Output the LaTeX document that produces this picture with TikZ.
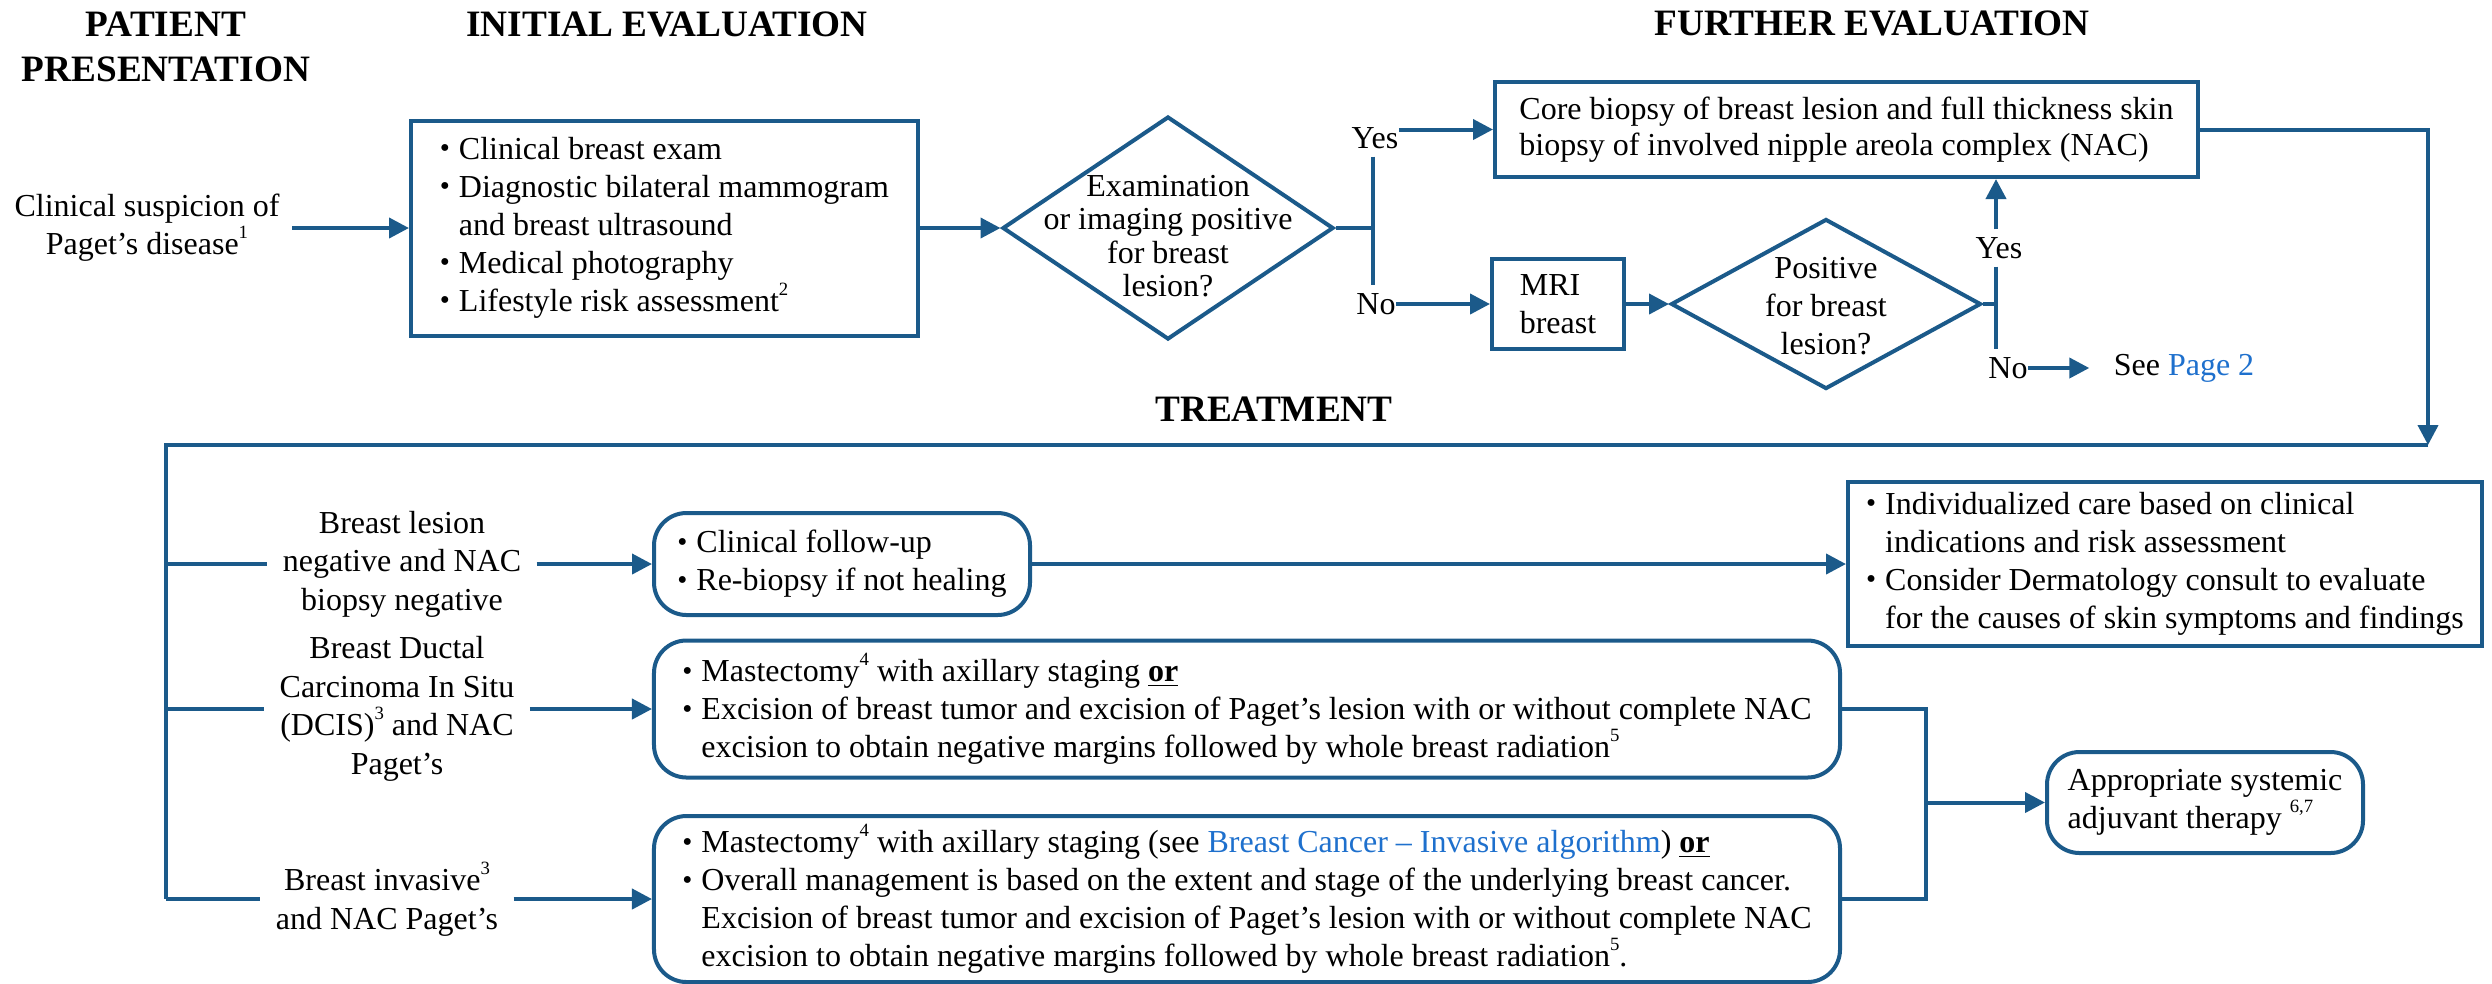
\documentclass[tikz,border=0pt]{standalone}
\usepackage{fontspec}
\usepackage{graphicx}
\setmainfont{Liberation Serif}
\usetikzlibrary{arrows.meta,shapes.geometric}
\definecolor{lineblue}{RGB}{27,90,138}
\definecolor{linkblue}{RGB}{30,112,205}
\newcommand\bul{\makebox[7.6pt][l]{\raisebox{0.12ex}{\scalebox{0.9}{\textbullet}}}}
\newcommand\indt{\hspace*{7.6pt}}
\newcommand\sups[1]{\raisebox{1.1ex}{\fontsize{7.5}{7.5}\selectfont #1}}
\begin{document}
\begin{tikzpicture}[x=0.4pt,y=-0.4pt,
 every node/.style={inner sep=0pt, font=\fontsize{12.8}{15.2}\selectfont},
 ln/.style={draw=lineblue, line width=1.6pt},
 arr/.style={ln, -{Triangle[length=8pt,width=8pt]}},
 sqbox/.style={draw=lineblue, line width=1.6pt, align=left},
 rbox/.style={sqbox, rounded corners=13pt},
 hdr/.style={font=\bfseries\fontsize{14.9}{18}\selectfont, align=center},
 lbl/.style={align=center, inner xsep=6pt},
 yn/.style={inner xsep=0pt, inner ysep=3pt},
 dmd/.style={diamond, draw=lineblue, line width=1.6pt, inner sep=0pt},
]
\useasboundingbox (0,0) rectangle (2492,983);

% headers
\node[hdr] (hpat) at (166,47) {PATIENT\\PRESENTATION};
\node[hdr] (hini) at (667,24) {INITIAL EVALUATION};
\node[hdr] (hfur) at (1872,23) {FURTHER EVALUATION};
\node[hdr] (htre) at (1274,409) {TREATMENT};

% patient presentation
\node[align=center, inner xsep=5pt] (pres) at (147,228) {Clinical suspicion of\\Paget’s disease\sups{1}};

% initial evaluation
\node[sqbox, minimum width=202.8pt, minimum height=86pt] (init) at (664.5,228)
 {\bul Clinical breast exam\\
  \bul Diagnostic bilateral mammogram\\
  \indt and breast ultrasound\\
  \bul Medical photography\\
  \bul Lifestyle risk assessment\sups{2}};

% diamond 1
\node[dmd, minimum width=132.4pt, minimum height=89.2pt] (d1) at (1168,228) {};
\node[align=center, font=\fontsize{12.8}{13.4}\selectfont] (d1t) at (1168,236)
 {Examination\\or imaging positive\\for breast\\lesion?};

\coordinate (j1) at (1373,228);
\node[yn] (yes1) at (1375,138) {Yes};
\node[yn] (no1) at (1376,304) {No};

% further evaluation
\node[sqbox, minimum width=281.2pt, minimum height=38pt, font=\fontsize{12.8}{14.4}\selectfont] (core) at (1846.5,129.5)
 {Core biopsy of breast lesion and full thickness skin\\biopsy of involved nipple areola complex (NAC)};
\node[sqbox, minimum width=52.8pt, minimum height=36pt] (mri) at (1558,304) {MRI\\breast};

\node[dmd, minimum width=124pt, minimum height=68pt] (d2) at (1826,304) {};
\node[align=center] (d2t) at (1826,306) {Positive\\for breast\\lesion?};

\coordinate (j2) at (1996,304);
\node[yn] (yes2) at (1999,248) {Yes};
\node[yn] (no2) at (2008,368) {No};
\node[inner xsep=9.6pt] (see) at (2184,368) {See \textcolor{linkblue}{Page 2}};

\coordinate (cr) at (2428,129.5);
\coordinate (cb) at (2428,445);
\coordinate (tl) at (166,445);
\coordinate (tb) at (166,899);

% treatment labels
\node[lbl, font=\fontsize{12.8}{15.4}\selectfont] (l1) at (402,564) {Breast lesion\\negative and NAC\\biopsy negative};
\node[lbl, font=\fontsize{12.8}{15.4}\selectfont] (l2) at (397,709) {Breast Ductal\\Carcinoma In Situ\\(DCIS)\sups{3} and NAC\\Paget’s};
\node[lbl, font=\fontsize{12.8}{15.4}\selectfont] (l3) at (387,899) {Breast invasive\sups{3}\\and NAC Paget’s};

% treatment boxes
\node[rbox, minimum width=150.4pt, minimum height=40.8pt] (b1) at (842,564)
 {\bul Clinical follow-up\\\bul Re-biopsy if not healing};
\node[rbox, minimum width=474.4pt, minimum height=54.8pt] (b2) at (1247,709)
 {\bul Mastectomy\sups{4} with axillary staging \textbf{\underline{or}}\\
  \bul Excision of breast tumor and excision of Paget’s lesion with or without complete NAC\\
  \indt excision to obtain negative margins followed by whole breast radiation\sups{5}};
\node[rbox, minimum width=474.4pt, minimum height=66.4pt] (b3) at (1247,899)
 {\bul Mastectomy\sups{4} with axillary staging (see \textcolor{linkblue}{Breast Cancer -- Invasive algorithm}) \textbf{\underline{or}}\\
  \bul Overall management is based on the extent and stage of the underlying breast cancer.\\
  \indt Excision of breast tumor and excision of Paget’s lesion with or without complete NAC\\
  \indt excision to obtain negative margins followed by whole breast radiation\sups{5}.};

\node[sqbox, minimum width=253.6pt, minimum height=65.6pt] (ind) at (2165,564)
 {\bul Individualized care based on clinical\\
  \indt indications and risk assessment\\
  \bul Consider Dermatology consult to evaluate\\
  \indt for the causes of skin symptoms and findings};

\node[rbox, minimum width=126.4pt, minimum height=40.4pt] (sys) at (2205,802.5)
 {Appropriate systemic\\adjuvant therapy \sups{6,7}};

\coordinate (m1) at (1926,709);
\coordinate (m2) at (1926,899);

% connectors
\draw[arr] (pres) -- (init);
\draw[arr] (init) -- (d1);
\draw[ln] (d1.east) -- (j1);
\draw[ln] (yes1.south -| j1) -- (no1.north -| j1);
\draw[arr] (yes1.east |- core.west) -- (core.west);
\draw[arr] (no1.east) -- (mri.west);
\draw[arr] (mri) -- (d2);
\draw[ln] (d2.east) -- (j2);
\draw[ln] (yes2.south -| j2) -- (no2.north -| j2);
\draw[arr] (yes2.north -| j2) -- (core.south -| j2);
\draw[arr] (no2.east) -- (see.west);
\draw[arr] (core.east) -- (cr) -- (cb);
\draw[ln] (cb) -- (tl) -- (tb);
\draw[ln] (l1.west -| tl) -- (l1.west);
\draw[ln] (l2.west -| tl) -- (l2.west);
\draw[ln] (l3.west -| tl) -- (l3.west);
\draw[arr] (l1.east) -- (b1.west);
\draw[arr] (l2.east) -- (b2.west);
\draw[arr] (l3.east) -- (b3.west);
\draw[arr] (b1) -- (ind);
\draw[ln] (b2.east) -- (m1) -- (m2) -- (b3.east);
\draw[arr] (sys.west -| m1) -- (sys.west);
\end{tikzpicture}
\end{document}
